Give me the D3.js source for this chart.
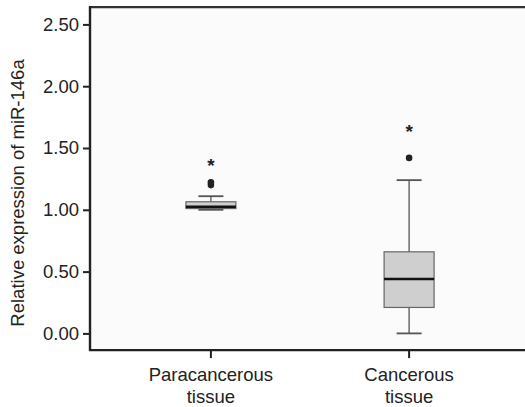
<!DOCTYPE html>
<html lang="en">
<head>
  <meta charset="utf-8">
  <title>Relative expression of miR-146a</title>
  <script type="text/javascript" src="https://d3js.org/d3.v7.min.js"></script>
</head>
<style>
body {
  margin: 0;
  background: #fff;
  font-family: "Liberation Sans", Arial, sans-serif;
}
</style>
<body>
  <script type="text/javascript">
  var w = 525;
  var h = 407;

  // data
  var categories = [["Paracancerous", "tissue"], ["Cancerous", "tissue"]];
  var lowerWhisker = [1.00, 0.00];
  var q1 = [1.01, 0.21];
  var median = [1.025, 0.44];
  var q3 = [1.065, 0.66];
  var upperWhisker = [1.11, 1.24];
  var outliers = [[1.20, 1.222], [1.42]];
  var extremes = [[1.385], [1.66]];
  var yTicks = [0, 0.5, 1, 1.5, 2, 2.5];

  var left = 90;
  var fontSize = "18.5px";

  var y = d3.scaleLinear()
            .domain([0, 2.5])
            .range([333.4, 24.4]);
  var yBottom = y(-0.135);
  var yTop = y(2.64);

  var x = d3.scalePoint()
            .domain([0, 1])
            .range([left, 530])
            .padding(0.61);

  var svg = d3.select("body")
              .append("svg")
              .attr("width", w)
              .attr("height", h);

  // plot background
  svg.append("rect")
     .attr("x", left)
     .attr("y", yTop)
     .attr("width", w - left)
     .attr("height", yBottom - yTop)
     .attr("fill", "#fbfbfb");

  var boxes = svg.append("g");
  var boxW = 50, capW = 25;

  for (var i = 0; i < categories.length; i++) {
    var cx = x(i);
    var g = boxes.append("g");
    // whiskers
    g.append("line")
     .attr("x1", cx).attr("x2", cx)
     .attr("y1", y(q3[i])).attr("y2", y(upperWhisker[i]))
     .attr("stroke", "#555").attr("stroke-width", 1.3);
    g.append("line")
     .attr("x1", cx).attr("x2", cx)
     .attr("y1", y(q1[i])).attr("y2", y(lowerWhisker[i]))
     .attr("stroke", "#555").attr("stroke-width", 1.3);
    // caps
    g.append("line")
     .attr("x1", cx - capW / 2).attr("x2", cx + capW / 2)
     .attr("y1", y(upperWhisker[i])).attr("y2", y(upperWhisker[i]))
     .attr("stroke", "#555").attr("stroke-width", 1.8);
    g.append("line")
     .attr("x1", cx - capW / 2).attr("x2", cx + capW / 2)
     .attr("y1", y(lowerWhisker[i])).attr("y2", y(lowerWhisker[i]))
     .attr("stroke", "#555").attr("stroke-width", 1.8);
    // box
    g.append("rect")
     .attr("x", cx - boxW / 2)
     .attr("y", y(q3[i]))
     .attr("width", boxW)
     .attr("height", y(q1[i]) - y(q3[i]))
     .attr("fill", "#cfcfcf")
     .attr("stroke", "#666")
     .attr("stroke-width", 1.2);
    // median
    g.append("line")
     .attr("x1", cx - boxW / 2).attr("x2", cx + boxW / 2)
     .attr("y1", y(median[i])).attr("y2", y(median[i]))
     .attr("stroke", "#111").attr("stroke-width", 2.5);
    // outliers
    g.selectAll("circle")
     .data(outliers[i])
     .enter()
     .append("circle")
     .attr("cx", cx)
     .attr("cy", function(d) { return y(d); })
     .attr("r", 3.3)
     .attr("fill", "#222");
    // extremes
    g.selectAll("text")
     .data(extremes[i])
     .enter()
     .append("text")
     .attr("x", cx)
     .attr("y", function(d) { return y(d) + 10; })
     .attr("text-anchor", "middle")
     .style("font-size", "19px")
     .style("font-weight", "bold")
     .attr("fill", "#222")
     .text("*");
  }

  // y axis
  var yAxis = svg.append("g")
     .attr("transform", "translate(" + left + ",0)")
     .call(d3.axisLeft(y).tickValues(yTicks).tickSize(7).tickPadding(4)
           .tickFormat(d3.format(".2f")));
  yAxis.select(".domain").remove();
  yAxis.selectAll(".tick line").attr("stroke", "#222").attr("stroke-width", 2);
  yAxis.selectAll(".tick text")
       .style("font-size", fontSize)
       .style("font-family", "Liberation Sans, Arial, sans-serif")
       .attr("fill", "#222");

  // frame lines
  svg.append("line")
     .attr("x1", left).attr("x2", w)
     .attr("y1", yTop).attr("y2", yTop)
     .attr("stroke", "#333").attr("stroke-width", 2.2);
  svg.append("line")
     .attr("x1", left).attr("x2", left)
     .attr("y1", yTop - 1).attr("y2", yBottom + 1)
     .attr("stroke", "#222").attr("stroke-width", 2.4);
  svg.append("line")
     .attr("x1", left - 1).attr("x2", w)
     .attr("y1", yBottom).attr("y2", yBottom)
     .attr("stroke", "#222").attr("stroke-width", 2.4);

  // x ticks and labels
  var xg = svg.append("g");
  for (var j = 0; j < categories.length; j++) {
    xg.append("line")
      .attr("x1", x(j)).attr("x2", x(j))
      .attr("y1", yBottom).attr("y2", yBottom + 8)
      .attr("stroke", "#222").attr("stroke-width", 2);
    var t = xg.append("text")
      .attr("x", x(j))
      .attr("y", 381)
      .attr("text-anchor", "middle")
      .style("font-size", fontSize)
      .attr("fill", "#222");
    t.selectAll("tspan")
     .data(categories[j])
     .enter()
     .append("tspan")
     .attr("x", x(j))
     .attr("dy", function(d, k) { return k === 0 ? 0 : 22; })
     .text(function(d) { return d; });
  }

  // y label
  svg.append("text")
     .attr("transform", "translate(24,193) rotate(-90)")
     .attr("text-anchor", "middle")
     .style("font-size", fontSize)
     .attr("fill", "#222")
     .text("Relative expression of miR-146a");
  </script>
</body>
</html>
